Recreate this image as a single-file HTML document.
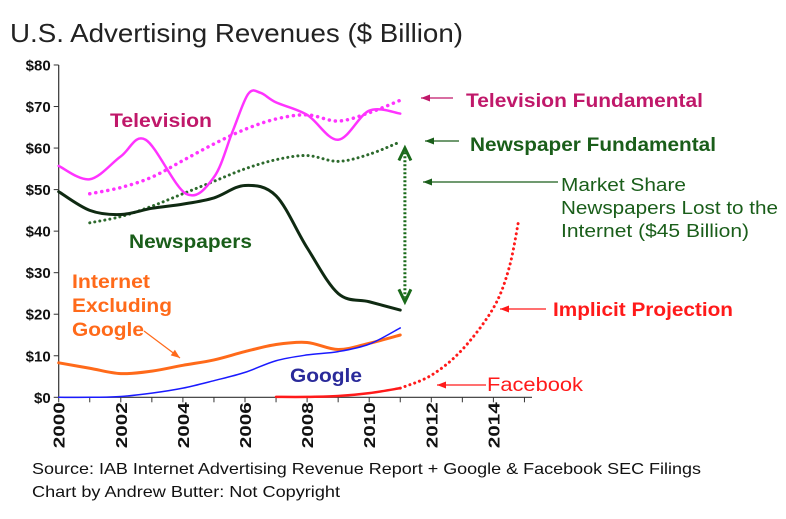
<!DOCTYPE html>
<html><head><meta charset="utf-8">
<style>
html,body{margin:0;padding:0;background:#fff;}
svg{display:block;font-family:"Liberation Sans",Arial,sans-serif;}
</style></head>
<body>
<svg id="chart" width="786" height="519" viewBox="0 0 786 519">
<text x="10" y="42" font-size="26" textLength="453" lengthAdjust="spacingAndGlyphs" fill="#222">U.S. Advertising Revenues ($ Billion)</text>
<g id="axes"></g>
<g id="series"></g>
<g id="annotations" font-weight="bold" font-size="19">
  <text x="110" y="127" textLength="102" lengthAdjust="spacingAndGlyphs" fill="#c0186a">Television</text>
  <text x="129" y="248" textLength="123" lengthAdjust="spacingAndGlyphs" fill="#1a5e1a">Newspapers</text>
  <text x="72" y="288" textLength="78" lengthAdjust="spacingAndGlyphs" fill="#ff6a1a">Internet</text>
  <text x="72" y="312" textLength="100" lengthAdjust="spacingAndGlyphs" fill="#ff6a1a">Excluding</text>
  <text x="72" y="336" textLength="72" lengthAdjust="spacingAndGlyphs" fill="#ff6a1a">Google</text>
  <text x="290" y="382" textLength="72" lengthAdjust="spacingAndGlyphs" fill="#2a2a9a">Google</text>
  <text x="466" y="107" textLength="237" lengthAdjust="spacingAndGlyphs" fill="#c0186a">Television Fundamental</text>
  <text x="470" y="151" textLength="246" lengthAdjust="spacingAndGlyphs" fill="#1a5e1a">Newspaper Fundamental</text>
  <text x="553" y="316" textLength="180" lengthAdjust="spacingAndGlyphs" fill="#ff1a1a">Implicit Projection</text>
  <text x="487" y="391" textLength="96" lengthAdjust="spacingAndGlyphs" fill="#ff1a1a" font-weight="normal">Facebook</text>
  <g font-weight="normal" fill="#1a5e1a" font-size="18">
    <text x="561" y="191" textLength="125" lengthAdjust="spacingAndGlyphs">Market Share</text>
    <text x="561" y="214" textLength="217" lengthAdjust="spacingAndGlyphs">Newspapers Lost to the</text>
    <text x="561" y="237" textLength="188" lengthAdjust="spacingAndGlyphs">Internet ($45 Billion)</text>
  </g>
</g>
<g id="arrows"></g>
<text x="32" y="474" font-size="16" textLength="669" lengthAdjust="spacingAndGlyphs" fill="#111">Source: IAB Internet Advertising Revenue Report + Google &amp; Facebook SEC Filings</text>
<text x="32" y="497" font-size="16" textLength="308" lengthAdjust="spacingAndGlyphs" fill="#111">Chart by Andrew Butter: Not Copyright</text>
</svg>
<script>
const yTicks=[0,10,20,30,40,50,60,70,80];
const yearTicks=[2000,2002,2004,2006,2008,2010,2012,2014];
const tvYears=[2000,2001,2002,2002.8,2004.1,2005,2005.6,2006.1,2006.5,2007,2008,2009,2010,2011];
const tvValues=[55.7,52.5,58,62,49,53,64,73,73.3,71,68,62,69,68.3];
const tvFundYears=[2001,2002,2003,2004,2005,2006,2007,2008,2009,2010,2011];
const tvFundValues=[49,50.5,53,57,61,64.5,67,68,66.5,68.5,71.5];
const newsYears=[2000,2001,2002,2003,2004,2005,2006,2007,2008,2009,2010,2011];
const newsValues=[49.5,45,44,45.5,46.5,48,51,48.5,36,25,23,21];
const newsFundYears=[2001,2002,2003,2004,2005,2006,2007,2008,2009,2010,2011];
const newsFundValues=[42,43.5,46,49,52,55,57.2,58.2,56.8,58.5,61.5];
const netYears=[2000,2001,2002,2003,2004,2005,2006,2007,2008,2009,2010,2011];
const netValues=[8.3,7,5.7,6.3,7.7,9,11,12.7,13.2,11.5,13,15];
const googleYears=[2000,2001,2002,2003,2004,2005,2006,2007,2008,2009,2010,2011];
const googleValues=[0,0,0.2,1,2.2,4,6,8.8,10.2,11,12.8,16.7];
const fbYears=[2007,2008,2009,2010,2011];
const fbValues=[0.1,0.1,0.3,1,2.2];
const projYears=[2011,2012,2013,2014,2014.5,2014.8];
const projValues=[2.2,5.3,11.5,21.5,31,42];

const NS="http://www.w3.org/2000/svg";
const X0=58.7,PX=31.05,Y0=397.3,PY=4.154;
function xs(y){return X0+(y-2000)*PX;}
function ys(v){return Y0-v*PY;}
function mk(tag,attrs,parent){const e=document.createElementNS(NS,tag);for(const k in attrs)e.setAttribute(k,attrs[k]);parent.appendChild(e);return e;}
const axes=document.getElementById('axes'),series=document.getElementById('series'),arrows=document.getElementById('arrows');

let e=mk('line',{x1:X0,y1:ys(80),x2:X0,y2:Y0,stroke:'#333','stroke-width':1.2},axes);


e=mk('line',{x1:X0,y1:Y0,x2:532,y2:Y0,stroke:'#333','stroke-width':1.2},axes);


yTicks.forEach(v=>{
  mk('line',{x1:X0-5,y1:ys(v),x2:X0,y2:ys(v),stroke:'#333'},axes);
  const t=mk('text',{x:X0-8,y:ys(v)+5.5,'text-anchor':'end','font-size':15,'font-weight':'bold',fill:'#111'},axes);
  t.textContent='$'+v;
  
  
});
for(let y=2000;y<=2015;y++){mk('line',{x1:xs(y),y1:Y0,x2:xs(y),y2:Y0+5,stroke:'#333'},axes);}
yearTicks.forEach(y=>{
  const t=mk('text',{x:0,y:0,transform:`translate(${xs(y)+6},${Y0+5}) rotate(-90)`,'text-anchor':'end','font-size':16,'font-weight':'bold',fill:'#111',textLength:46,lengthAdjust:'spacingAndGlyphs'},axes);
  t.textContent=y;
  
  
});

function smooth(xa,va){
  const p=xa.map((x,i)=>[xs(x),ys(va[i])]);
  let d=`M${p[0][0]},${p[0][1]}`;
  for(let i=0;i<p.length-1;i++){
    const a=p[i-1]||p[i],b=p[i],c=p[i+1],n=p[i+2]||c;
    d+=` C${b[0]+(c[0]-a[0])/6},${b[1]+(c[1]-a[1])/6} ${c[0]-(n[0]-b[0])/6},${c[1]-(n[1]-b[1])/6} ${c[0]},${c[1]}`;
  }
  return d;
}
function line(xa,va,color,w,dash,name){
  const a={d:smooth(xa,va),fill:'none',stroke:color,'stroke-width':w,'stroke-linecap':'round'};
  if(dash)a['stroke-dasharray']=dash;
  const p=mk('path',a,series);
  
  
}
line(tvFundYears,tvFundValues,'#ff33ff',3.5,'0.1 6','tv-fundamental-line');
line(newsFundYears,newsFundValues,'#2d6a2d',3,'0.1 5','newspaper-fundamental-line');
line(tvYears,tvValues,'#ff33ff',2.5,null,'television-line');
line(newsYears,newsValues,'#0f2a12',3,null,'newspapers-line');
line(netYears,netValues,'#ff6a1a',3,null,'internet-line');
line(googleYears,googleValues,'#1a1aff',1.5,null,'google-line');
line(fbYears,fbValues,'#ff1a1a',2.5,null,'facebook-line');
line(projYears,projValues,'#ff1a1a',3,'0.1 5','projection-line');

function arrow(x1,y1,x2,y2,color,name){
  const g=mk('g',{},arrows);
  
  
  mk('line',{x1,y1,x2,y2,stroke:color,'stroke-width':1.2},g);
  const ang=Math.atan2(y2-y1,x2-x1),L=9,W=3.5;
  const bx=x2-L*Math.cos(ang),by=y2-L*Math.sin(ang);
  mk('polygon',{points:`${x2},${y2} ${bx-W*Math.sin(ang)},${by+W*Math.cos(ang)} ${bx+W*Math.sin(ang)},${by-W*Math.cos(ang)}`,fill:color},g);
}
arrow(453,98,421,98,'#c0186a','tv-fundamental-arrow');
arrow(459,141,425,141,'#1a5e1a','newspaper-fundamental-arrow');
arrow(558,182,423,182,'#1a5e1a','market-share-arrow');
arrow(546,309,500,309,'#ff1a1a','projection-arrow');
arrow(486,385,437,385,'#ff1a1a','facebook-arrow');
arrow(144,331,180,358,'#ff6a1a','internet-arrow');
const dg=mk('g',{},arrows);


mk('line',{x1:xs(2011.15),y1:ys(59),x2:xs(2011.15),y2:ys(24),stroke:'#1a6a1a','stroke-width':3,'stroke-dasharray':'2 2'},dg);
mk('polyline',{points:`${xs(2011.15)-6},${ys(57)} ${xs(2011.15)},${ys(60)} ${xs(2011.15)+6},${ys(57)}`,fill:'none',stroke:'#1a6a1a','stroke-width':3},dg);
mk('polyline',{points:`${xs(2011.15)-6},${ys(26)} ${xs(2011.15)},${ys(23)} ${xs(2011.15)+6},${ys(26)}`,fill:'none',stroke:'#1a6a1a','stroke-width':3},dg);
</script>
</body></html>
